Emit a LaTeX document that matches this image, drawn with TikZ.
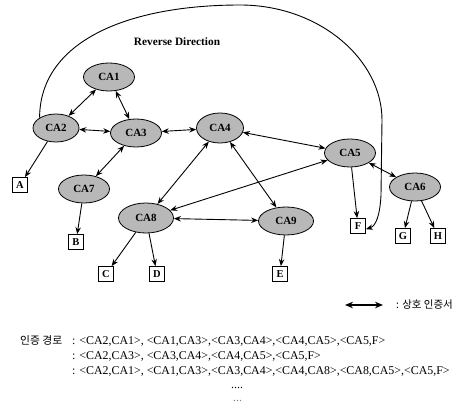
\documentclass[tikz,border=0pt]{standalone}
\usepackage{fontspec}
\setmainfont{Liberation Serif}
\newfontfamily\kr{Noto Sans CJK KR}
\usetikzlibrary{shapes.geometric,arrows.meta}
\begin{document}
\begin{tikzpicture}[x=1pt,y=-1pt,
  ca/.style={ellipse,draw,line width=0.8pt,fill=black!28,minimum width=51pt,minimum height=28pt,inner sep=0pt,font=\bfseries\fontsize{11}{12}\selectfont},
  leaf/.style={draw,line width=0.8pt,minimum size=15pt,inner sep=0pt,font=\bfseries\fontsize{10.5}{12}\selectfont},
  link/.style={line width=0.9pt,{Stealth[length=7pt,width=5.5pt]}-{Stealth[length=7pt,width=5.5pt]}},
  down/.style={line width=0.9pt,-{Stealth[length=7pt,width=5.5pt]}},
  txt/.style={anchor=base west,inner sep=0pt,font=\fontsize{11.9}{14}\selectfont},
  krtxt/.style={anchor=base west,inner sep=0pt,font=\kr\fontsize{10.8}{13}\selectfont}]
\useasboundingbox (0,0) rectangle (468,406);

% CA nodes
\node[ca] (CA1) at (109,77) {CA1};
\node[ca,minimum width=46pt] (CA2) at (56,128) {CA2};
\node[ca] (CA3) at (136,133) {CA3};
\node[ca,minimum width=47pt,minimum height=30pt] (CA4) at (220,128) {CA4};
\node[ca] (CA5) at (350,153) {CA5};
\node[ca] (CA6) at (415,187) {CA6};
\node[ca] (CA7) at (84,189) {CA7};
\node[ca,minimum width=55pt,minimum height=30pt] (CA8) at (146,218) {CA8};
\node[ca,minimum width=55pt] (CA9) at (286,221) {CA9};

% leaves
\node[leaf] (A) at (20,185) {A};
\node[leaf] (B) at (76,242) {B};
\node[leaf] (C) at (106,274) {C};
\node[leaf] (D) at (157,274) {D};
\node[leaf] (E) at (280,274) {E};
\node[leaf] (F) at (358,226) {F};
\node[leaf] (G) at (403,236) {G};
\node[leaf] (H) at (438,236) {H};

% mutual certificates
\draw[link] (CA2) -- (CA1);
\draw[link] (CA1) -- (CA3);
\draw[link] (CA2) -- (CA3);
\draw[link] (CA3) -- (CA4);
\draw[link] (CA3) -- (CA7);
\draw[link] (CA4) -- (CA5);
\draw[link] (CA4) -- (CA8);
\draw[link] (CA4) -- (CA9);
\draw[link] (CA5) -- (CA8);
\draw[link] (CA8) -- (CA9);
\draw[link] (CA5) -- (CA6);

% issued certificates
\draw[down] (CA2) -- (A);
\draw[down] (CA7) -- (B);
\draw[down] (CA8) -- (C);
\draw[down] (CA8) -- (D);
\draw[down] (CA9) -- (E);
\draw[down] (CA5) -- (F);
\draw[down] (CA6) -- (G);
\draw[down] (CA6) -- (H);

% reverse direction
\draw[down] (CA2.148) .. controls (40,40) and (130,5) .. (240,5)
  .. controls (320,5) and (382,60) .. (382,120)
  -- (381,195) .. controls (380,215) and (376,226) .. (F.-22);
\node[font=\bfseries\fontsize{11.3}{13}\selectfont,inner sep=0pt] (rd) at (177,42) {Reverse Direction};

% legend
\coordinate (l1) at (345,305);
\coordinate (l2) at (383,305);
\draw[line width=1.6pt,{Stealth[length=8pt,width=6.5pt]}-{Stealth[length=8pt,width=6.5pt]}] (l1) -- (l2);
\node[anchor=west,inner sep=0pt,font=\kr\fontsize{10.5}{13}\selectfont] (lg) at (396,305) {: 상호 인증서};

% paths
\node[krtxt] (pl) at (20,344) {인증 경로};
\node[txt] (p1) at (72,344) {: <CA2,CA1>, <CA1,CA3>,<CA3,CA4>,<CA4,CA5>,<CA5,F>};
\node[txt] (p2) at (72,359) {: <CA2,CA3>, <CA3,CA4>,<CA4,CA5>,<CA5,F>};
\node[txt] (p3) at (72,374) {: <CA2,CA1>, <CA1,CA3>,<CA3,CA4>,<CA4,CA8>,<CA8,CA5>,<CA5,F>};
\node[txt] (d1) at (231,388) {....};
\node[txt,text=black!50] (d2) at (233,401) {...};
\end{tikzpicture}
\end{document}
